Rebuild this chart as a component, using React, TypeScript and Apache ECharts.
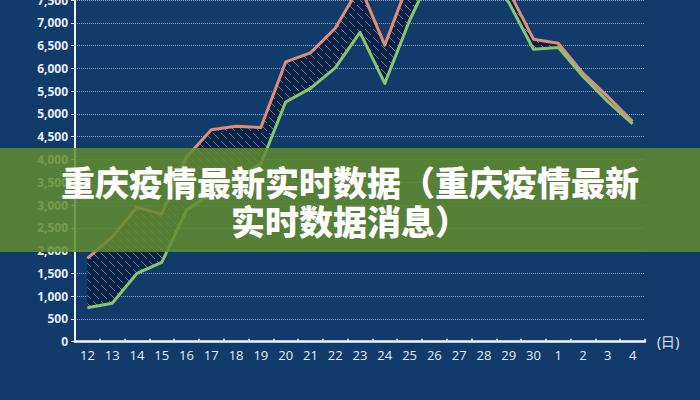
import React, { useEffect, useRef } from "react";
import * as echarts from "echarts";

const categories = ["12","13","14","15","16","17","18","19","20","21","22","23","24","25","26","27","28","29","30","1","2","3","4"];
const upperValues = [1830, 2300, 2950, 2800, 4050, 4650, 4730, 4700, 6140, 6340, 6880, 7800, 6510, 7950, 8600, 8900, 8400, 7700, 6640, 6550, 5890, 5380, 4830];
const lowerValues = [746, 843, 1500, 1742, 2890, 3250, 3580, 3900, 5260, 5560, 6010, 6790, 5670, 7050, 8200, 8500, 8100, 7450, 6420, 6460, 5820, 5270, 4780];
const titleLine1 = "重庆疫情最新实时数据（重庆疫情最新";
const titleLine2 = "实时数据消息）";
const xAxisName = "(日)";

function makeHatch(): HTMLCanvasElement {
  const c = document.createElement("canvas");
  c.width = 8;
  c.height = 8;
  const ctx = c.getContext("2d")!;
  ctx.fillStyle = "#0b2146";
  ctx.fillRect(0, 0, 8, 8);
  ctx.strokeStyle = "rgba(220,230,245,0.45)";
  ctx.lineWidth = 1;
  ctx.beginPath();
  ctx.moveTo(0, 0);
  ctx.lineTo(3, 3);
  ctx.moveTo(5, 5);
  ctx.lineTo(8, 8);
  ctx.stroke();
  return c;
}

export default function App() {
  const ref = useRef<HTMLDivElement>(null);
  useEffect(() => {
    document.body.style.margin = "0";
    const chart = echarts.init(ref.current!, null, { renderer: "svg" });
    const diff = upperValues.map((v, i) => v - lowerValues[i]);
    const hatch = makeHatch();
    const titleStyle = {
      fill: "#ffffff",
      font: "900 34px 'Noto Sans CJK SC'",
      align: "center",
      verticalAlign: "middle",
      shadowColor: "rgba(0,0,0,0.45)",
      shadowBlur: 3,
      shadowOffsetX: 1,
      shadowOffsetY: 1,
    };
    chart.setOption({
      animation: false,
      backgroundColor: "#113b6b",
      grid: { left: 75, right: 55, top: 0, bottom: 58.3, outerBoundsMode: "none", containLabel: false },
      xAxis: {
        type: "category",
        data: categories,
        boundaryGap: true,
        name: xAxisName,
        nameLocation: "end",
        nameGap: 12,
        nameTextStyle: { color: "#e3ebf4", fontSize: 14, fontFamily: "Open Sans", verticalAlign: "middle" },
        axisLine: { lineStyle: { color: "#f2f6fa", width: 2.5 } },
        axisTick: { show: true, inside: true, length: 3, lineStyle: { color: "#f2f6fa", width: 1.5 } },
        axisLabel: { color: "#e3ebf4", fontSize: 13, fontFamily: "Open Sans", margin: 7, interval: 0 },
        splitLine: { show: false },
      },
      yAxis: {
        type: "value",
        min: 0,
        max: 7500,
        interval: 500,
        axisLine: { show: true, lineStyle: { color: "#f2f6fa", width: 2 } },
        axisTick: { show: true, length: 4, lineStyle: { color: "#f2f6fa" } },
        axisLabel: {
          color: "#e6eef6",
          fontSize: 12,
          fontWeight: "bold",
          fontFamily: "Open Sans",
          margin: 7,
          formatter: (v: number) => v.toLocaleString("en-US"),
        },
        splitLine: { show: true, lineStyle: { color: "rgba(200,220,240,0.65)", type: "dotted", width: 1 } },
      },
      series: [
        {
          type: "line",
          stack: "band",
          data: lowerValues,
          symbol: "none",
          lineStyle: { opacity: 0 },
          silent: true,
          z: 1,
        },
        {
          type: "line",
          stack: "band",
          data: diff,
          symbol: "none",
          lineStyle: { opacity: 0 },
          areaStyle: { color: { image: hatch, repeat: "repeat" }, opacity: 1 },
          silent: true,
          z: 1,
        },
        {
          type: "line",
          data: upperValues,
          symbol: "none",
          lineStyle: { color: "#e08c7c", width: 3, join: "round" },
          z: 3,
        },
        {
          type: "line",
          data: lowerValues,
          symbol: "none",
          lineStyle: { color: "#88c56f", width: 3, join: "round" },
          z: 4,
        },
      ],
      graphic: [
        {
          type: "rect",
          z: 100,
          shape: { x: 0, y: 148, width: 700, height: 104 },
          style: { fill: "rgba(98,140,48,0.86)" },
        },
        { type: "text", z: 101, x: 350, y: 181, style: { ...titleStyle, text: titleLine1 } },
        { type: "text", z: 101, x: 350, y: 220, style: { ...titleStyle, text: titleLine2 } },
      ],
    });
    return () => chart.dispose();
  }, []);
  return <div ref={ref} style={{ width: 700, height: 400 }} />;
}
